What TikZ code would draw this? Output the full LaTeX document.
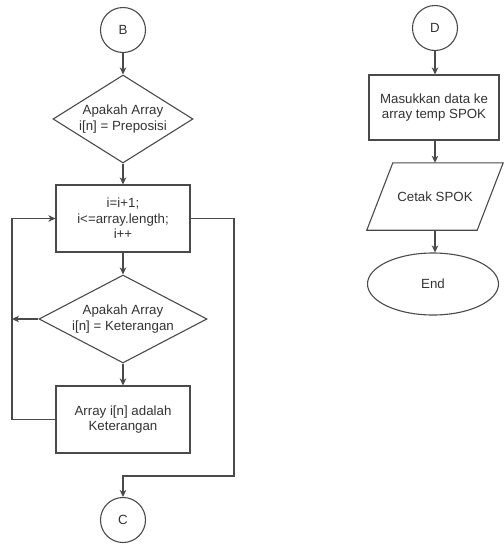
\documentclass[tikz,border=0pt]{standalone}
\usepackage{fontspec}
\setmainfont{Liberation Sans}
\usetikzlibrary{shapes.geometric,arrows.meta}
\definecolor{lc}{HTML}{4A4A4A}
\definecolor{tc}{HTML}{333333}
\begin{document}
\begin{tikzpicture}[x=1pt,y=-1pt,
  line/.style={draw=lc, line width=1.1pt},
  arr/.style={line, -{Stealth[length=7pt,width=6.5pt,inset=2pt]}},
  txt/.style={align=center, text=tc, inner sep=0pt, font=\fontsize{13.3}{15.5}\selectfont},
  conn/.style={circle, line, txt, minimum size=45pt},
  proc/.style={rectangle, line, txt, minimum width=134pt, minimum height=67pt},
  dec/.style={diamond, line, inner sep=0pt, minimum height=88pt},
  term/.style={ellipse, line, txt, minimum width=131pt, minimum height=62pt}
]
\useasboundingbox (0,0) rectangle (504,547);
% left column
\node[conn] (B) at (123,30) {B};
\node[dec, minimum width=140pt] (d1) at (123,119) {};
\node[txt] (d1t) at (d1) {Apakah Array\\i[n] = Preposisi};
\node[proc] (p1) at (123,218.5) {i=i+1;\\i<=array.length;\\i++};
\node[dec, minimum width=168pt] (d2) at (123,319) {};
\node[txt] (d2t) at (d2) {Apakah Array\\i[n] = Keterangan};
\node[proc] (p2) at (123,419.5) {Array i[n] adalah\\Keterangan};
\node[conn] (C) at (123,520) {C};
\coordinate (L) at (12,0);
\coordinate (R) at (234,0);
\coordinate (m) at (123,476);
\draw[arr] (B) -- (d1);
\draw[arr] (d1) -- (p1);
\draw[arr] (p1) -- (d2);
\draw[arr] (d2) -- (p2);
\draw[arr] (d2.west) -- (d2.west -| L);
\draw[arr] (p2.west) -- (p2.west -| L) -- (p1.west -| L) -- (p1.west);
\draw[arr] (p1.east) -- (p1.east -| R) -- (m -| R) -- (m) -- (C);
% right column
\node[conn] (D) at (435,28) {D};
\node[proc, minimum width=130pt, minimum height=65pt] (p3) at (434,107.5) {Masukkan data ke\\array temp SPOK};
\node[txt, minimum width=136pt, minimum height=67pt] (pr) at (435,196.5) {Cetak SPOK};
\draw[line, line join=miter] ([xshift=26pt]pr.north west) -- (pr.north east) -- ([xshift=-26pt]pr.south east) -- (pr.south west) -- cycle;
\node[term] (E) at (433,284) {End};
\draw[arr] (D.south) -- (D.south |- p3.north);
\draw[arr] (D.south |- p3.south) -- (D.south |- pr.north);
\draw[arr] (D.south |- pr.south) -- (D.south |- E.north);
\end{tikzpicture}
\end{document}
